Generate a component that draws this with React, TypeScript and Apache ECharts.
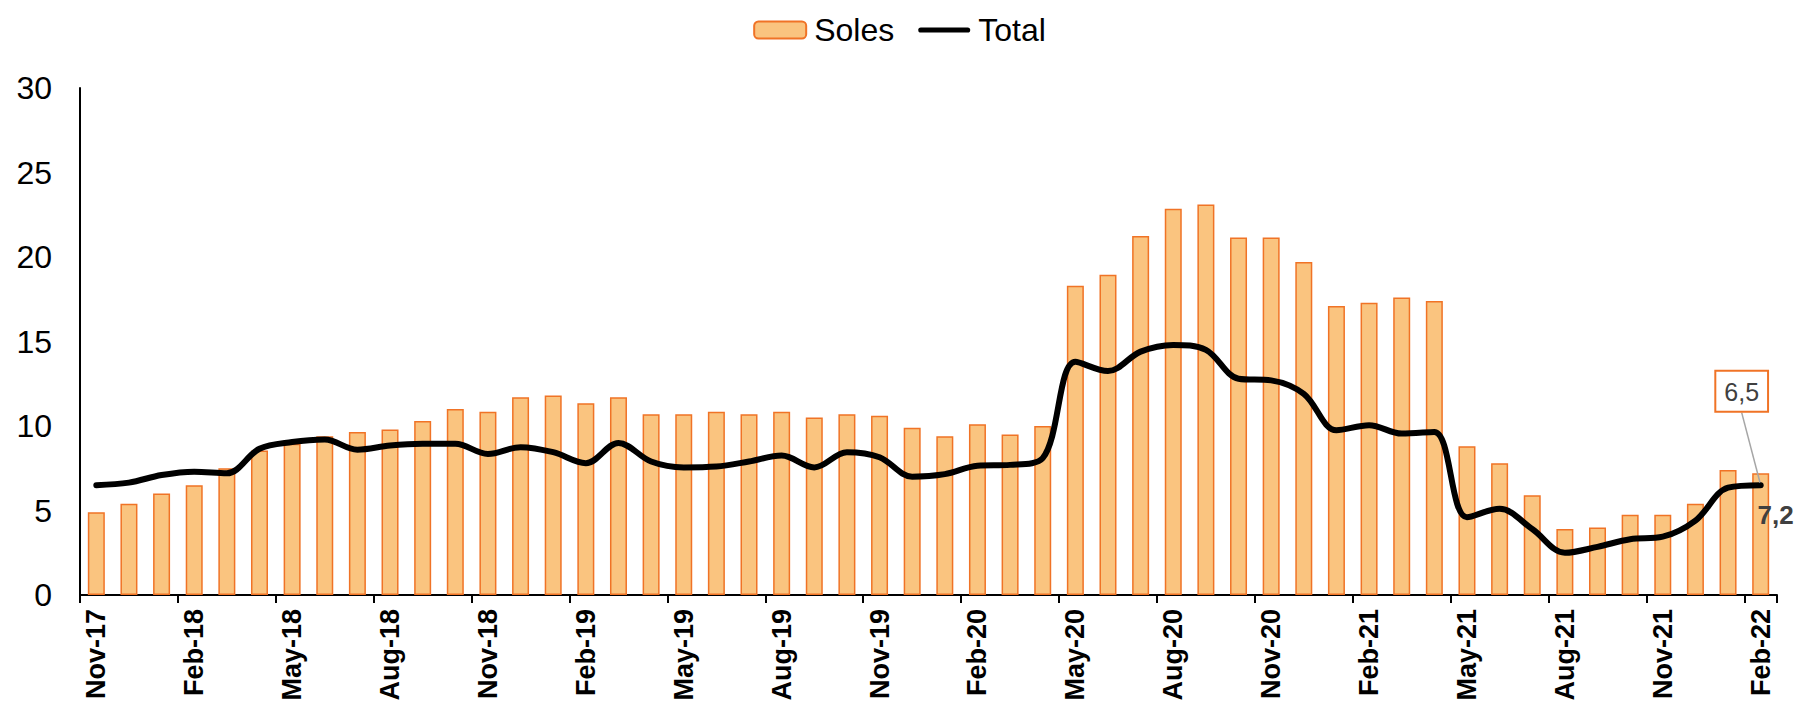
import React, { useEffect, useRef } from 'react';
import * as echarts from 'echarts';

const months = [
  'Nov-17', 'Dec-17',
  'Jan-18', 'Feb-18', 'Mar-18', 'Apr-18', 'May-18', 'Jun-18', 'Jul-18', 'Aug-18', 'Sep-18', 'Oct-18', 'Nov-18', 'Dec-18',
  'Jan-19', 'Feb-19', 'Mar-19', 'Apr-19', 'May-19', 'Jun-19', 'Jul-19', 'Aug-19', 'Sep-19', 'Oct-19', 'Nov-19', 'Dec-19',
  'Jan-20', 'Feb-20', 'Mar-20', 'Apr-20', 'May-20', 'Jun-20', 'Jul-20', 'Aug-20', 'Sep-20', 'Oct-20', 'Nov-20', 'Dec-20',
  'Jan-21', 'Feb-21', 'Mar-21', 'Apr-21', 'May-21', 'Jun-21', 'Jul-21', 'Aug-21', 'Sep-21', 'Oct-21', 'Nov-21', 'Dec-21',
  'Jan-22', 'Feb-22',
];

const soles = [
  4.9, 5.4, 6.0, 6.5, 7.5, 8.55, 8.95, 9.4, 9.65, 9.8, 10.3, 11.0, 10.85, 11.7, 11.8, 11.35,
  11.7, 10.7, 10.7, 10.85, 10.7, 10.85, 10.5, 10.7, 10.6, 9.9, 9.4, 10.1, 9.5, 10.0,
  18.3, 18.95, 21.25, 22.85, 23.1, 21.15, 21.15, 19.7, 17.1, 17.3, 17.6, 17.4,
  8.8, 7.8, 5.9, 3.9, 4.0, 4.75, 4.75, 5.4, 7.4, 7.2,
];

const total = [
  6.5, 6.65, 7.1, 7.3, 7.2, 8.65, 9.05, 9.2, 8.6, 8.85, 8.95, 8.95, 8.35, 8.75, 8.45, 7.8,
  9.0, 7.9, 7.55, 7.6, 7.9, 8.25, 7.55, 8.45, 8.15, 7.0, 7.15, 7.65, 7.7, 8.1,
  13.8, 13.25, 14.4, 14.8, 14.5, 12.8, 12.7, 11.9, 9.75, 10.05, 9.55, 9.65,
  4.6, 5.1, 3.9, 2.5, 2.85, 3.3, 3.45, 4.4, 6.35, 6.5,
];

const yMin = 0;
const yMax = 30;
const yStep = 5;

const fmt = (v: number) => v.toFixed(1).replace('.', ',');

export default function App() {
  const ref = useRef<HTMLDivElement>(null);

  useEffect(() => {
    document.body.style.margin = '0';
    const chart = echarts.init(ref.current!, undefined, { renderer: 'svg' });
    const last = months.length - 1;
    const font = 'Liberation Sans, Arial, sans-serif';

    chart.setOption({
      animation: false,
      backgroundColor: '#ffffff',
      textStyle: { fontFamily: font },
      legend: {
        top: 9,
        left: 'center',
        itemWidth: 52,
        itemHeight: 17,
        itemGap: 24,
        textStyle: { fontSize: 32, color: '#000', fontFamily: font, padding: [0, 0, 0, 3] },
        data: [
          { name: 'Soles' },
          {
            name: 'Total',
            icon: 'path://M3,0 L57,0 A3,3 0 0 1 57,6 L3,6 A3,3 0 0 1 3,0 Z',
            itemStyle: { color: '#000', borderWidth: 0 },
          },
        ],
      },
      grid: { left: 80, right: 22, top: 88, bottom: 112, containLabel: false },
      xAxis: {
        type: 'category',
        data: months,
        boundaryGap: true,
        axisLine: { show: true, lineStyle: { color: '#000', width: 2 } },
        axisTick: { show: true, interval: 2, length: 8, lineStyle: { color: '#000', width: 2 } },
        axisLabel: {
          interval: 2,
          rotate: 90,
          fontSize: 27,
          fontWeight: 'bold',
          color: '#000',
          margin: 14,
          fontFamily: font,
        },
      },
      yAxis: {
        type: 'value',
        min: yMin,
        max: yMax,
        interval: yStep,
        axisLine: { show: true, lineStyle: { color: '#000', width: 2 } },
        axisTick: { show: false },
        splitLine: { show: false },
        axisLabel: { fontSize: 32, color: '#000', margin: 28, fontFamily: font },
      },
      series: [
        {
          name: 'Soles',
          type: 'bar',
          barWidth: 17,
          itemStyle: { color: '#FAC47F', borderColor: '#F07326', borderWidth: 1.5 },
          data: soles.map((v, i) =>
            i === last
              ? {
                  value: v,
                  label: {
                    show: true,
                    position: 'insideTop',
                    offset: [15, 24],
                    formatter: (p: any) => fmt(p.value),
                    fontSize: 26,
                    fontWeight: 'bold',
                    color: '#404040',
                    fontFamily: font,
                  },
                }
              : v
          ),
        },
        {
          name: 'Total',
          type: 'line',
          smooth: 0.35,
          symbol: 'none',
          showSymbol: true,
          showAllSymbol: true,
          z: 5,
          lineStyle: { color: '#000', width: 6, cap: 'round', join: 'round' },
          itemStyle: { color: '#000' },
          labelLayout: { dx: -19, dy: -67 },
          labelLine: { show: true, lineStyle: { color: '#A6A6A6', width: 1.5 } },
          data: total.map((v, i) =>
            i === last
              ? {
                  value: v,
                  symbol: 'circle',
                  symbolSize: 5,
                  label: {
                    show: true,
                    position: 'top',
                    formatter: (p: any) => fmt(p.value),
                    fontSize: 25,
                    color: '#404040',
                    backgroundColor: '#ffffff',
                    borderColor: '#F07326',
                    borderWidth: 2,
                    padding: [8, 8, 6, 8],
                    fontFamily: font,
                  },
                }
              : v
          ),
        },
      ],
    });

    return () => chart.dispose();
  }, []);

  return (
    <div
      ref={ref}
      style={{ position: 'absolute', left: 0, top: 0, width: 1799, height: 707 }}
    />
  );
}
